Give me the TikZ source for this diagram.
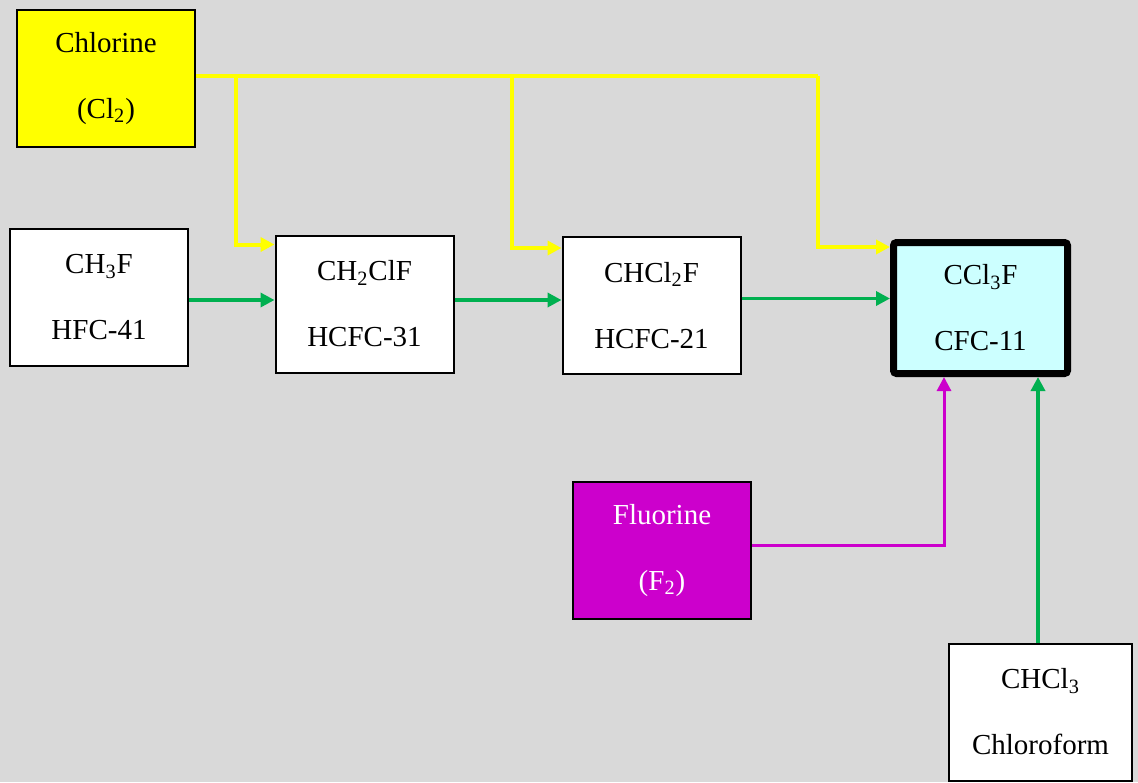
\documentclass[tikz,border=0pt]{standalone}
\usepackage{fontspec}
\setmainfont{Liberation Serif}
\usetikzlibrary{arrows.meta,positioning}

\definecolor{bggrey}{HTML}{D9D9D9}
\definecolor{clyellow}{HTML}{FFFF00}
\definecolor{flmagenta}{HTML}{CC00CC}
\definecolor{rxgreen}{HTML}{00B050}
\definecolor{prodcyan}{HTML}{CCFFFF}

\begin{document}
\begin{tikzpicture}[x=0.5pt,y=-0.5pt,>={Triangle[length=7pt,width=7pt]},
    box/.style={draw=black,line width=1pt,fill=white,minimum width=89pt,
                minimum height=68.5pt,inner sep=0pt,align=center,
                font=\fontsize{14.5}{33}\selectfont},
    product/.style={box,fill=prodcyan,line width=3.5pt,rounded corners=1.5pt,
                minimum width=87pt,minimum height=65.5pt},
    clflow/.style={->,draw=clyellow,line width=2pt},
    step flow/.style={->,draw=rxgreen,line width=1.7pt},
    flflow/.style={->,draw=flmagenta,line width=1.5pt}]

  % background
  \fill[bggrey] (0,0) rectangle (1138,782);

  \node[box,fill=clyellow]            (Cl)     at (106,78.5)   {Chlorine\\(Cl\textsubscript{2})};
  \node[box]                          (HFC41)  at (99,297.5)   {CH\textsubscript{3}F\\HFC-41};
  \node[box]                          (HCFC31) at (364.5,304)  {CH\textsubscript{2}ClF\\HCFC-31};
  \node[box]                          (HCFC21) at (651.5,305.5){CHCl\textsubscript{2}F\\HCFC-21};
  \node[product]                      (CFC11)  at (980.5,308)  {CCl\textsubscript{3}F\\CFC-11};
  \node[box,fill=flmagenta,text=white](F)      at (662,550.5)  {Fluorine\\(F\textsubscript{2})};
  \node[box,minimum width=91.5pt]     (CHCl3)  at (1040.5,712) {CHCl\textsubscript{3}\\Chloroform};

  % chlorine feed
  \coordinate (clA) at (236,76);
  \coordinate (clB) at (512,76);
  \coordinate (clC) at (818,76);
  \draw[clflow,-] ([yshift=1.25pt]Cl.east) -- (clC);
  \draw[clflow] (clA) |- ([yshift=-5pt]HCFC31.north west);
  \draw[clflow] (clB) |- ([yshift=-6pt]HCFC21.north west);
  \draw[clflow] (clC) |- ([yshift=-4pt]CFC11.north west);

  % chain
  \draw[step flow] ([yshift=-1.25pt]HFC41.east) -- ([yshift=-1.25pt]HFC41.east -| HCFC31.west);
  \draw[step flow,line width=2pt] ([yshift=2pt]HCFC31.east) -- ([yshift=2pt]HCFC31.east -| HCFC21.west);
  \draw[step flow] ([yshift=3.5pt]HCFC21.east) -- ([yshift=3.5pt]HCFC21.east -| CFC11.west);

  % fluorine and chloroform
  \draw[flflow] ([yshift=2.75pt]F.east) -| ([xshift=-18.25pt]CFC11.south);
  \draw[step flow] ([xshift=-1.25pt]CHCl3.north) -- ([xshift=-1.25pt]CHCl3.north |- CFC11.south);
\end{tikzpicture}
\end{document}
